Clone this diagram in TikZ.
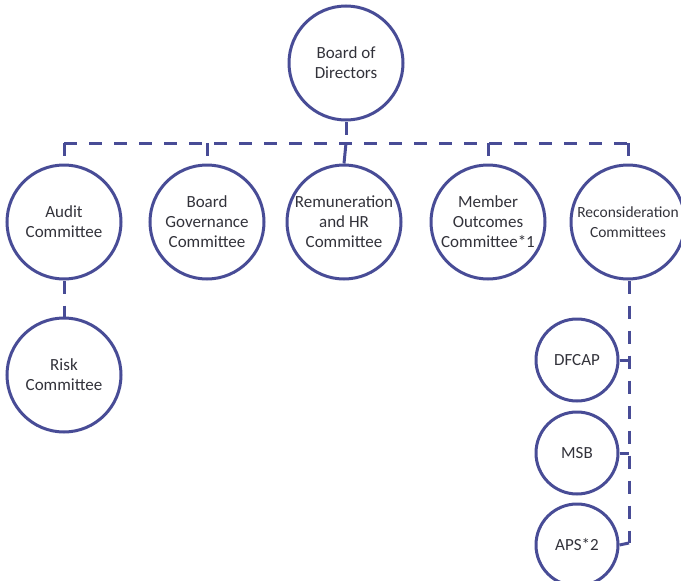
\documentclass[tikz,border=0pt]{standalone}
\usepackage{fontspec}
\setmainfont{Carlito}
\definecolor{dblue}{RGB}{72,76,150}
\definecolor{tgray}{RGB}{50,50,58}
\tikzset{
  org/.style={circle, draw=dblue, line width=3pt, minimum size=114pt, inner sep=0pt,
    align=center, text=tgray, font=\fontsize{17}{20}\selectfont},
  subc/.style={org, minimum size=82pt, font=\fontsize{17}{20}\selectfont},
  conn/.style={draw=dblue, line width=3pt, dash pattern=on 13pt off 12pt},
  solidconn/.style={draw=dblue, line width=3pt}
}
\begin{document}
\begin{tikzpicture}[x=1pt,y=-1pt]
\useasboundingbox (0,0) rectangle (681,581);
\clip (0,0) rectangle (681,581);
\node[org] (board) at (346,63) {Board of\\Directors};
\node[org] (audit) at (64,222) {Audit\\Committee};
\node[org] (gov) at (207,222) {Board\\Governance\\Committee};
\node[org] (rem) at (344,222) {Remuneration\\and HR\\Committee};
\node[org] (mem) at (488,222) {Member\\Outcomes\\Committee*1};
\node[org, font=\fontsize{15.5}{20}\selectfont] (recon) at (628,222) {Reconsideration\\Committees};
\node[org] (risk) at (64,375) {Risk\\Committee};
\node[subc] (dfcap) at (577,360) {DFCAP};
\node[subc] (msb) at (577,453) {MSB};
\node[subc] (aps) at (577,545) {APS*2};
\coordinate (bus) at (346,143);
\coordinate (vbot) at (629,543);
\draw[conn] (board.south) -- (bus);
\draw[conn] (audit.north |- bus) -- (recon.north |- bus);
\draw[solidconn] (bus) -- (rem.north);
\foreach \n in {audit,gov,mem,recon} \draw[conn] (\n.north |- bus) -- (\n.north);
\draw[conn] (audit.south) -- (risk.north);
\draw[conn] (recon.south -| vbot) -- (vbot);
\draw[solidconn] (dfcap.east) -- (dfcap.east -| vbot);
\draw[solidconn] (msb.east) -- (msb.east -| vbot);
\draw[solidconn] (aps.east) -- (vbot);
\end{tikzpicture}
\end{document}
